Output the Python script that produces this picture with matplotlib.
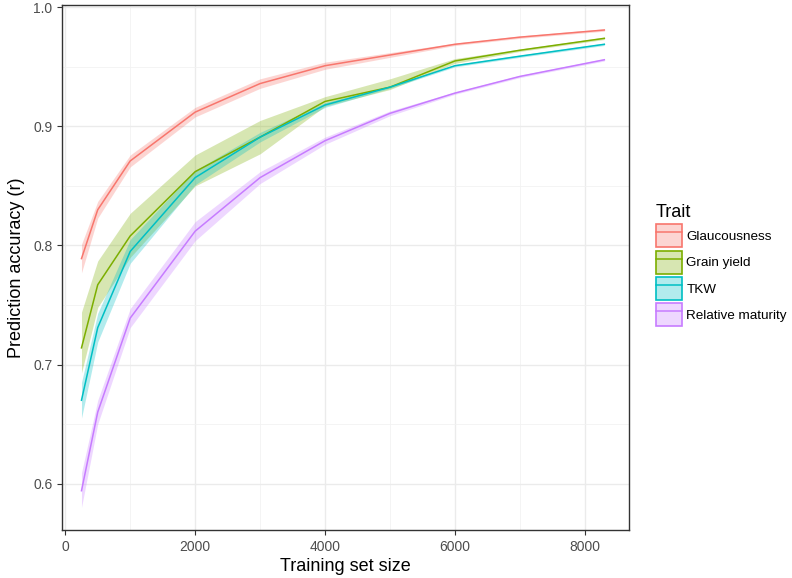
import numpy as np
import matplotlib.pyplot as plt
from matplotlib.patches import Patch
from matplotlib.lines import Line2D
from matplotlib.colors import to_rgba
from matplotlib.ticker import MultipleLocator

plt.rcParams['font.family'] = ['Liberation Sans', 'DejaVu Sans']

# training set sizes
sizes = [250, 500, 1000, 2000, 3000, 4000, 5000, 6000, 7000, 8300]

traits = ["Glaucousness", "Grain yield", "TKW", "Relative maturity"]
colors = ["#F8766D", "#7CAE00", "#00BFC4", "#C77CFF"]

# mean prediction accuracy
glauc = [0.789, 0.830, 0.871, 0.912, 0.936, 0.951, 0.960, 0.969, 0.975, 0.981]
grain = [0.714, 0.767, 0.808, 0.862, 0.891, 0.921, 0.933, 0.955, 0.964, 0.974]
tkw = [0.670, 0.731, 0.795, 0.857, 0.891, 0.918, 0.933, 0.951, 0.959, 0.969]
relmat = [0.594, 0.660, 0.739, 0.812, 0.857, 0.888, 0.911, 0.928, 0.942, 0.956]

# ribbon bounds
glauc_lo = [0.777, 0.823, 0.866, 0.908, 0.932, 0.948, 0.958, 0.968, 0.974, 0.980]
glauc_hi = [0.801, 0.837, 0.876, 0.916, 0.940, 0.954, 0.962, 0.970, 0.976, 0.982]
grain_lo = [0.693, 0.748, 0.790, 0.850, 0.877, 0.917, 0.931, 0.953, 0.963, 0.973]
grain_hi = [0.744, 0.787, 0.827, 0.876, 0.905, 0.925, 0.940, 0.957, 0.965, 0.975]
tkw_lo = [0.655, 0.719, 0.785, 0.851, 0.887, 0.916, 0.932, 0.950, 0.958, 0.968]
tkw_hi = [0.685, 0.743, 0.805, 0.863, 0.895, 0.920, 0.934, 0.952, 0.960, 0.970]
relmat_lo = [0.580, 0.650, 0.731, 0.804, 0.852, 0.885, 0.909, 0.927, 0.941, 0.955]
relmat_hi = [0.609, 0.670, 0.747, 0.820, 0.862, 0.891, 0.913, 0.929, 0.943, 0.957]

means = [glauc, grain, tkw, relmat]
lows = [glauc_lo, grain_lo, tkw_lo, relmat_lo]
highs = [glauc_hi, grain_hi, tkw_hi, relmat_hi]

fig = plt.figure(figsize=(7.92, 5.78), dpi=100)
ax = fig.add_axes([62 / 792, 48 / 578, (629 - 62) / 792, (573 - 48) / 578])

handles = []
for name, col, m, lo, hi in zip(traits, colors, means, lows, highs):
    ax.fill_between(sizes, lo, hi, color=col, alpha=0.3, linewidth=0)
    ax.plot(sizes, m, color=col, linewidth=1.1)
    handles.append((Patch(facecolor=to_rgba(col, 0.3), edgecolor=col, linewidth=1.2),
                    Line2D([], [], color=col, linewidth=1.1)))

ax.set_xlim(-50, 8680)
ax.set_ylim(0.561, 1.002)
ax.xaxis.set_major_locator(MultipleLocator(2000))
ax.xaxis.set_minor_locator(MultipleLocator(1000))
ax.yaxis.set_major_locator(MultipleLocator(0.1))
ax.yaxis.set_minor_locator(MultipleLocator(0.05))
ax.yaxis.set_major_formatter(plt.FuncFormatter(lambda v, p: f"{v:.1f}"))
ax.grid(which="major", color="#EBEBEB", linewidth=1.0)
ax.grid(which="minor", color="#F2F2F2", linewidth=0.6)
ax.set_axisbelow(True)
for s in ax.spines.values():
    s.set_color("#333333")
    s.set_linewidth(1.0)
ax.tick_params(which="major", colors="#333333", labelcolor="#4D4D4D", labelsize=10, length=3.5)
ax.tick_params(which="minor", length=0)

ax.set_xlabel("Training set size", fontsize=13, labelpad=3)
ax.set_ylabel("Prediction accuracy (r)", fontsize=13, labelpad=6)

leg = fig.legend(handles, traits, loc="upper left", bbox_to_anchor=(656 / 792, 1 - 204 / 578),
                 title="Trait", frameon=False, fontsize=9.7, title_fontsize=13,
                 handlelength=1.9, handleheight=2.25, labelspacing=0.25, handletextpad=0.35,
                 borderaxespad=0, borderpad=0)
leg._legend_box.align = "left"

fig.savefig("out.png", dpi=100)
